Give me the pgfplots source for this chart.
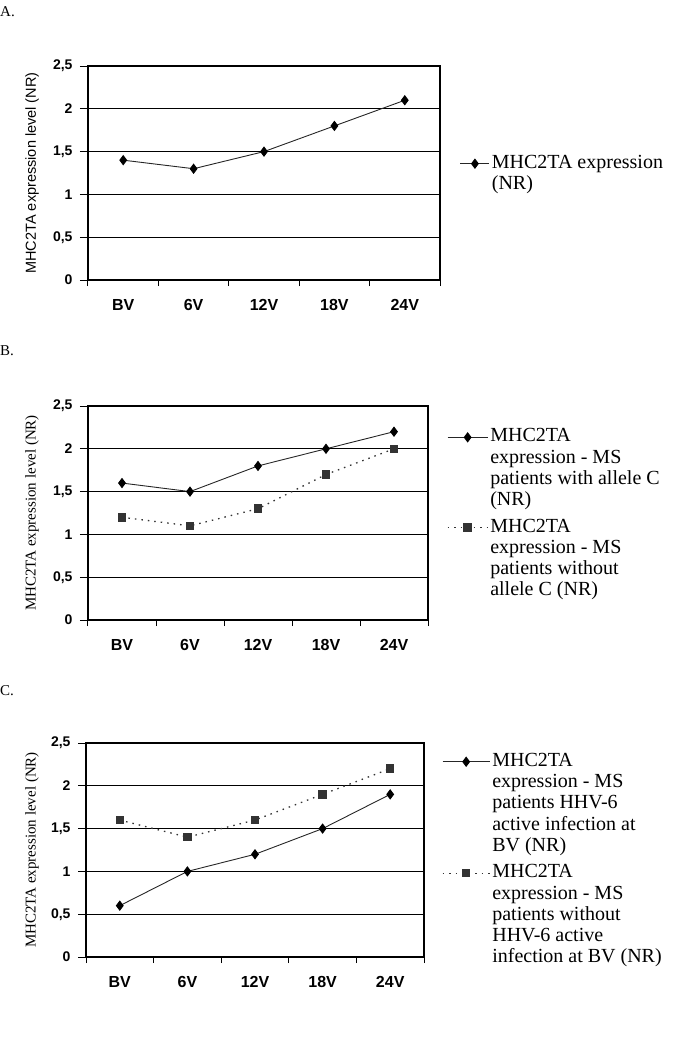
\documentclass[border=0pt]{standalone}
\usepackage{fontspec}
\setmainfont{Liberation Serif}
\setsansfont{Liberation Sans}
\usepackage{pgfplots}
\pgfplotsset{compat=1.18}
\newcommand{\LL}[1]{\rule{0pt}{19.8pt}#1}
\newcommand{\LE}[1]{\rule{0pt}{24.8pt}#1}
\pgfplotsset{
  panel/.style={
    scale only axis, height=214pt,
    xmin=-0.5, xmax=4.5, ymin=0, ymax=2.5,
    xtick={0,1,2,3,4}, xticklabels={BV,6V,12V,18V,24V},
    minor xtick={-0.5,0.5,1.5,2.5,3.5,4.5},
    ytick={0,0.5,1,1.5,2,2.5},
    yticklabels={0,{0,5},1,{1,5},2,{2,5}},
    tick align=outside,
    xtick pos=left, ytick pos=left,
    major tick length=8pt, minor tick length=6pt,
    major x tick style={draw=none},
    ymajorgrids, grid style={black, line width=1.1pt},
    axis line style={black, line width=1.1pt},
    tick style={black, line width=1pt},
    xticklabel style={font=\sffamily\bfseries\fontsize{16}{16}\selectfont, anchor=center, yshift=-17pt},
    yticklabel style={font=\sffamily\bfseries\fontsize{14}{14}\selectfont, xshift=-4pt},
    ylabel style={anchor=center, font=\fontsize{15}{15}\selectfont},
    clip=false,
    legend style={draw=none, fill=none, inner sep=0pt, outer sep=0pt, anchor=north west,
      row sep=0pt, column sep=0pt, cells={anchor=base west},
      nodes={inner xsep=2pt, inner ysep=0pt},
      font=\fontsize{20}{21.5}\selectfont},
    legend image code/.code={\draw[mark repeat=2,mark phase=2,##1] plot coordinates {(0pt,4.5pt) (0.5*\leglen,4.5pt) (\leglen,4.5pt)};},
  },
  solidser/.style={draw=black!85, line width=0.9pt, mark=diamond*, mark size=4.5pt, mark options={solid, fill=black, draw=black}},
  dotser/.style={draw=black!80, line width=1.3pt, dash pattern=on 1.5pt off 5pt, mark=square*, mark size=3.6pt, mark options={solid, fill=black!80, draw=black!80}},
}
\begin{document}
\begin{tikzpicture}
\useasboundingbox (0,0) rectangle (685pt,-1038pt);
\node[anchor=west, font=\fontsize{15}{15}\selectfont, inner sep=0pt] at (0pt,-12pt) {A.};
\node[anchor=west, font=\fontsize{15}{15}\selectfont, inner sep=0pt] at (0pt,-351pt) {B.};
\node[anchor=west, font=\fontsize{15}{15}\selectfont, inner sep=0pt] at (0pt,-691pt) {C.};

% Panel A
\def\leglen{29pt}
\begin{axis}[panel, at={(88pt,-280pt)}, anchor=south west, width=352pt,
  ylabel={MHC2TA expression level (NR)},
  ylabel style={at={(axis description cs:-0.159,0.5)}, font=\sffamily\fontsize{14.5}{14.5}\selectfont},
  legend style={at={(axis description cs:1.0568,0.615)}}]
\addplot[solidser] coordinates {(0,1.4) (1,1.3) (2,1.5) (3,1.8) (4,2.1)};
\addlegendentry{\LL{MHC2TA expression}}
\addlegendimage{empty legend}\addlegendentry{\LL{(NR)}}
\end{axis}

% Panel B
\def\leglen{40pt}
\begin{axis}[panel, at={(88pt,-620pt)}, anchor=south west, width=340pt,
  ylabel={MHC2TA expression level (NR)},
  ylabel style={at={(axis description cs:-0.165,0.5)}},
  legend style={at={(axis description cs:1.0559,0.925)}}]
\addplot[solidser] coordinates {(0,1.6) (1,1.5) (2,1.8) (3,2.0) (4,2.2)};
\addlegendentry{\LL{MHC2TA}}
\addlegendimage{empty legend}\addlegendentry{\LL{expression - MS}}
\addlegendimage{empty legend}\addlegendentry{\LL{patients with allele C}}
\addlegendimage{empty legend}\addlegendentry{\LL{(NR)}}
\addplot[dotser] coordinates {(0,1.2) (1,1.1) (2,1.3) (3,1.7) (4,2.0)};
\addlegendentry{\LE{MHC2TA}}
\addlegendimage{empty legend}\addlegendentry{\LL{expression - MS}}
\addlegendimage{empty legend}\addlegendentry{\LL{patients without}}
\addlegendimage{empty legend}\addlegendentry{\LL{allele C (NR)}}
\end{axis}

% Panel C
\def\leglen{47pt}
\begin{axis}[panel, at={(86pt,-957pt)}, anchor=south west, width=338pt,
  ylabel={MHC2TA expression level (NR)},
  ylabel style={at={(axis description cs:-0.160,0.5)}},
  legend style={at={(axis description cs:1.0533,0.984)}}]
\addplot[solidser] coordinates {(0,0.6) (1,1.0) (2,1.2) (3,1.5) (4,1.9)};
\addlegendentry{\LL{MHC2TA}}
\addlegendimage{empty legend}\addlegendentry{\LL{expression - MS}}
\addlegendimage{empty legend}\addlegendentry{\LL{patients HHV-6}}
\addlegendimage{empty legend}\addlegendentry{\LL{active infection at}}
\addlegendimage{empty legend}\addlegendentry{\LL{BV (NR)}}
\addplot[dotser] coordinates {(0,1.6) (1,1.4) (2,1.6) (3,1.9) (4,2.2)};
\addlegendentry{\LE{MHC2TA}}
\addlegendimage{empty legend}\addlegendentry{\LL{expression - MS}}
\addlegendimage{empty legend}\addlegendentry{\LL{patients without}}
\addlegendimage{empty legend}\addlegendentry{\LL{HHV-6 active}}
\addlegendimage{empty legend}\addlegendentry{\LL{infection at BV (NR)}}
\end{axis}
\end{tikzpicture}
\end{document}
